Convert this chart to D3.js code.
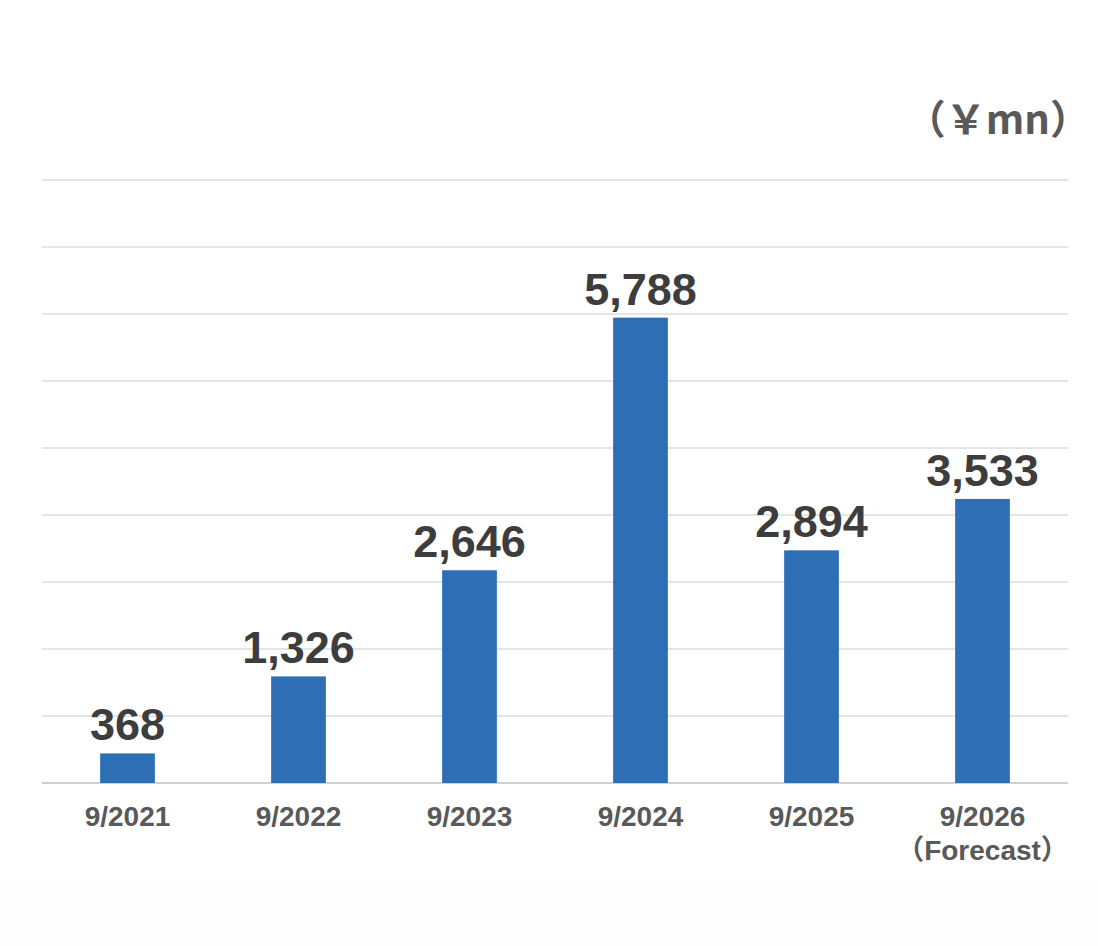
<!DOCTYPE html>
<html><head><meta charset="utf-8">
<script src="https://cdn.jsdelivr.net/npm/d3@7"></script>
<style>html,body{margin:0;padding:0;background:#fff;}</style>
</head><body>
<svg id="c" width="1098" height="946"></svg>
<script>
const categories = ["9/2021","9/2022","9/2023","9/2024","9/2025","9/2026"];
const subLabels = ["","","","","","（Forecast）"];
const values = [368,1326,2646,5788,2894,3533];
const unitLabel = "（￥mn）";
const yMax = 7500;
const gridCount = 9;

const svg = d3.select("#c");
const W = 1098, H = 946;
const m = {left:42, right:30, top:180, bottom:163};
const x = d3.scaleBand().domain(categories).range([m.left, W - m.right]).padding(0);
const y = d3.scaleLinear().domain([0, yMax]).range([H - m.bottom, m.top]);

// faint bottom band
svg.append("rect").attr("x",0).attr("y",880).attr("width",W).attr("height",H-880).attr("fill","#fdfdfd");

const ticks = d3.range(0, gridCount + 1).map(i => i * yMax / gridCount);
svg.append("g").selectAll("line").data(ticks).join("line")
  .attr("x1", m.left).attr("x2", W - m.right)
  .attr("y1", d => y(d)).attr("y2", d => y(d))
  .attr("stroke", d => d === 0 ? "#d0d0d0" : "#dcdcdc")
  .attr("stroke-width", d => d === 0 ? 2 : 1.5);

const bw = x.bandwidth() * 0.32;
svg.append("g").selectAll("rect").data(values).join("rect")
  .attr("x", (d,i) => x(categories[i]) + (x.bandwidth() - bw)/2)
  .attr("y", d => y(d))
  .attr("width", bw)
  .attr("height", d => y(0) - y(d))
  .attr("fill", "#2e6eb5");

const fmt = d3.format(",");
svg.append("g").selectAll("text").data(values).join("text")
  .attr("x", (d,i) => x(categories[i]) + x.bandwidth()/2)
  .attr("y", d => y(d) - 13)
  .attr("text-anchor","middle")
  .attr("font-family","Liberation Sans, Arial, sans-serif")
  .attr("font-weight","bold")
  .attr("font-size", 45)
  .attr("fill","#3d3d3d")
  .text(d => fmt(d));

const xl = svg.append("g");
xl.selectAll("text.cat").data(categories).join("text").attr("class","cat")
  .attr("x", d => x(d) + x.bandwidth()/2)
  .attr("y", y(0) + 43)
  .attr("text-anchor","middle")
  .attr("font-family","Liberation Sans, Arial, sans-serif")
  .attr("font-weight","bold")
  .attr("font-size", 28)
  .attr("fill","#595959")
  .text(d => d);
xl.selectAll("text.sub").data(subLabels).join("text").attr("class","sub")
  .attr("x", (d,i) => x(categories[i]) + x.bandwidth()/2)
  .attr("y", y(0) + 77)
  .attr("text-anchor","middle")
  .attr("font-family","Liberation Sans, 'Noto Sans CJK JP', sans-serif")
  .attr("font-weight","bold")
  .attr("font-size", 28)
  .attr("fill","#595959")
  .text(d => d);

svg.append("text")
  .attr("x", W - 8).attr("y", 134)
  .attr("text-anchor","end")
  .attr("font-family","'Noto Sans CJK JP', sans-serif")
  .attr("font-weight","bold")
  .attr("font-size", 40)
  .attr("fill","#595959")
  .text(unitLabel);
</script>
</body></html>
